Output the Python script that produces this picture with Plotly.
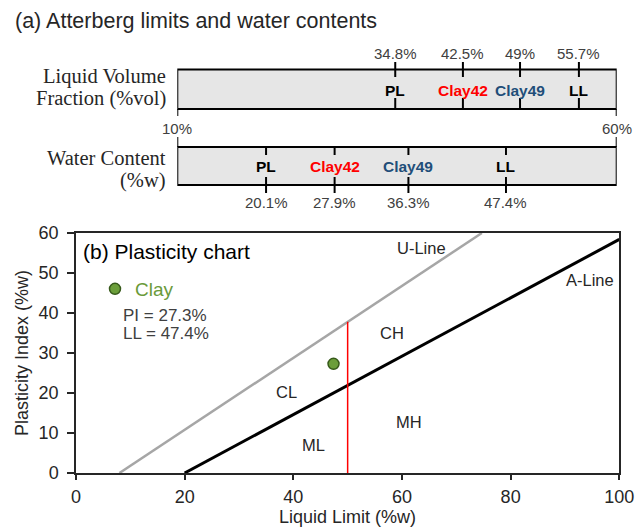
import plotly.graph_objects as go

# ---------------- data ----------------
SCALE_RANGE = [10, 60]                      # common %-scale of the two bars
LIMIT_LABELS = ["PL", "Clay42", "Clay49", "LL"]
VOL_FRACTION = [34.8, 42.5, 49.0, 55.7]     # Liquid volume fraction (%vol)
WATER_CONTENT = [20.1, 27.9, 36.3, 47.4]    # Water content (%w)

CLAY_LL = [47.4]
CLAY_PI = [27.3]
U_LINE_LL = [8, 74.7]
U_LINE_PI = [0, 60]
A_LINE_LL = [20, 100]
A_LINE_PI = [0, 58.4]
LL50_LL = [50, 50]
LL50_PI = [0, 37.8]
ZONE_NAMES = ["CL", "CH", "ML", "MH"]
ZONE_LL = [38.8, 58.1, 43.7, 61.2]
ZONE_PI = [20.3, 34.9, 7.0, 12.8]
LINE_NAMES = ["U-Line", "A-Line"]
LINE_LABEL_LL = [63.6, 94.6]
LINE_LABEL_PI = [56.2, 48.2]
X_TICKS = [0, 20, 40, 60, 80, 100]
Y_TICKS = [0, 10, 20, 30, 40, 50, 60]

# ---------------- style ----------------
SANS = "Liberation Sans, Arial, sans-serif"
SERIF = "Liberation Serif, Times New Roman, serif"
TXT = "#262626"
LABEL_COLORS = ["#000000", "#ff0000", "#1f4e79", "#000000"]
GREEN = "#6a9a3a"

W, H = 636, 528
fig = go.Figure()

# ---- top panel: x2/y2 where y2 is in pixel units (reversed) ----
B1 = (69.5, 109)
B2 = (147, 185)

def add_box(y0, y1):
    fig.add_shape(type="rect", xref="x2", yref="y2",
                  x0=SCALE_RANGE[0], x1=SCALE_RANGE[1], y0=y0, y1=y1,
                  fillcolor="#e6e6e6", line=dict(color="black", width=2),
                  layer="below")

add_box(*B1)
add_box(*B2)

xs, ys = [], []
for v in VOL_FRACTION:
    xs += [v, v, None, v, v, None]
    ys += [62, 77, None, 98, B1[1], None]
for v in WATER_CONTENT:
    xs += [v, v, None, v, v, None]
    ys += [B2[0], 155, None, 177, 193, None]
for v in SCALE_RANGE:
    xs += [v, v, None, v, v, None]
    ys += [B1[1], 116, None, 137, B2[0], None]
fig.add_trace(go.Scatter(x=xs, y=ys, mode="lines", xaxis="x2", yaxis="y2",
                         line=dict(color="black", width=2),
                         showlegend=False, hoverinfo="skip"))

ann = []
def pct(v):
    return f"{v:g}%"

for lab, v, c in zip(LIMIT_LABELS, VOL_FRACTION, LABEL_COLORS):
    ann.append(dict(xref="x2", yref="y2", x=v, y=53.5, text=pct(v),
                    showarrow=False, font=dict(family=SANS, size=15, color="#404040")))
    ann.append(dict(xref="x2", yref="y2", x=v, y=90, text=f"<b>{lab}</b>",
                    showarrow=False, font=dict(family=SANS, size=15.5, color=c)))
for lab, v, c in zip(LIMIT_LABELS, WATER_CONTENT, LABEL_COLORS):
    ann.append(dict(xref="x2", yref="y2", x=v, y=202, text=pct(v),
                    showarrow=False, font=dict(family=SANS, size=15, color="#404040")))
    ann.append(dict(xref="x2", yref="y2", x=v, y=166, text=f"<b>{lab}</b>",
                    showarrow=False, font=dict(family=SANS, size=15.5, color=c)))
for v in SCALE_RANGE:
    ann.append(dict(xref="x2", yref="y2", x=v, y=128.5, text=pct(v),
                    showarrow=False, font=dict(family=SANS, size=15, color="#404040")))

for txt, y in [("Liquid Volume", 76.5), ("Fraction (%vol)", 98.5),
               ("Water Content", 157.5), ("(%w)", 180)]:
    ann.append(dict(xref="paper", yref="y2", x=168 / W, y=y, xanchor="right",
                    yanchor="middle", text=txt, showarrow=False,
                    font=dict(family=SERIF, size=20.5, color=TXT)))

ann.append(dict(xref="paper", yref="y2", x=13 / W, y=21, xanchor="left",
                yanchor="middle",
                text="(a) Atterberg limits and water contents", showarrow=False,
                font=dict(family=SANS, size=21.5, color=TXT)))

# ---- bottom panel: plasticity chart ----
fig.add_trace(go.Scatter(x=U_LINE_LL, y=U_LINE_PI, mode="lines",
                         line=dict(color="#a6a6a6", width=2.5),
                         showlegend=False, hoverinfo="skip"))
fig.add_trace(go.Scatter(x=A_LINE_LL, y=A_LINE_PI, mode="lines",
                         line=dict(color="black", width=3),
                         showlegend=False, hoverinfo="skip"))
fig.add_trace(go.Scatter(x=LL50_LL, y=LL50_PI, mode="lines",
                         line=dict(color="#ff0000", width=1.5),
                         showlegend=False, hoverinfo="skip"))
fig.add_trace(go.Scatter(x=CLAY_LL, y=CLAY_PI, mode="markers", name="Clay",
                         marker=dict(size=11, color="#6b9e3a",
                                     line=dict(color="#375a1b", width=1.5)),
                         showlegend=True))

for n, x, y in zip(ZONE_NAMES, ZONE_LL, ZONE_PI):
    ann.append(dict(xref="x", yref="y", x=x, y=y, text=n, showarrow=False,
                    font=dict(family=SANS, size=16.5, color=TXT)))
for n, x, y in zip(LINE_NAMES, LINE_LABEL_LL, LINE_LABEL_PI):
    ann.append(dict(xref="x", yref="y", x=x, y=y, text=n, showarrow=False,
                    font=dict(family=SANS, size=16.5, color=TXT)))

ann.append(dict(xref="x", yref="y", x=1.0, y=55.3, xanchor="left",
                yanchor="middle", text="(b) Plasticity chart", showarrow=False,
                font=dict(family=SANS, size=21, color="black")))
ann.append(dict(xref="x", yref="y", x=8.3, y=39.5, xanchor="left",
                yanchor="middle", text=f"PI = {CLAY_PI[0]}%", showarrow=False,
                font=dict(family=SANS, size=17, color="#404040")))
ann.append(dict(xref="x", yref="y", x=8.3, y=35.0, xanchor="left",
                yanchor="middle", text=f"LL = {CLAY_LL[0]}%", showarrow=False,
                font=dict(family=SANS, size=17, color="#404040")))

ann.append(dict(xref="paper", yref="paper", x=(76 + 619.3) / 2 / W, y=1 - 517 / H,
                xanchor="center", yanchor="middle",
                text="Liquid Limit (%w)", showarrow=False,
                font=dict(family=SANS, size=18, color=TXT)))
ann.append(dict(xref="paper", yref="paper", x=22 / W, y=1 - 353 / H,
                xanchor="center", yanchor="middle",
                text="Plasticity Index (%w)", textangle=-90, showarrow=False,
                font=dict(family=SANS, size=18, color=TXT)))

axis_common = dict(showgrid=False, zeroline=False, showline=True, mirror=True,
                   automargin=False,
                   linecolor="#262626", linewidth=1.5, ticks="outside",
                   tickcolor="#262626", tickwidth=1.5,
                   tickfont=dict(family=SANS, size=18, color=TXT))

fig.update_layout(
    width=W, height=H,
    margin=dict(l=0, r=0, t=0, b=0, pad=0, autoexpand=False),
    paper_bgcolor="white", plot_bgcolor="white",
    showlegend=True,
    legend=dict(x=95 / W, y=1 - 289 / H, xanchor="left", yanchor="middle",
                bgcolor="rgba(0,0,0,0)", itemwidth=30,
                font=dict(family=SANS, size=19, color=GREEN)),
    xaxis=dict(domain=[76 / W, 619.3 / W], range=[0, 100], tickvals=X_TICKS,
               ticklen=5, ticklabelstandoff=2, anchor="y", **axis_common),
    yaxis=dict(domain=[1 - 473 / H, 1 - 233 / H], range=[0, 60], tickvals=Y_TICKS,
               ticklen=7, ticklabelstandoff=5, anchor="x", **axis_common),
    xaxis2=dict(domain=[177.3 / W, 616.7 / W], range=SCALE_RANGE, visible=False,
                automargin=False, anchor="y2"),
    yaxis2=dict(domain=[1 - 215 / H, 1], range=[215, 0], visible=False,
                automargin=False, anchor="x2"),
    annotations=ann,
)

fig.write_html("out.html")
